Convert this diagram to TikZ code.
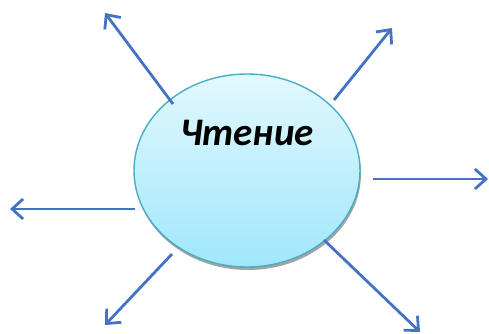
\documentclass[tikz,border=0pt]{standalone}
\usepackage{fontspec}
\newfontfamily\carlito{Carlito}
\usetikzlibrary{arrows.meta,positioning,shadows,shapes.geometric}
\definecolor{arrowblue}{RGB}{68,114,196}
\definecolor{rimteal}{RGB}{75,172,198}
\definecolor{topcyan}{RGB}{226,248,254}
\definecolor{botcyan}{RGB}{160,231,251}

\begin{document}
\begin{tikzpicture}[x=1pt,y=1pt,
  spoke/.style={draw=arrowblue,line width=2.8pt,-{Straight Barb[length=11pt,width=20pt]}},
  topic/.style={ellipse,draw=rimteal,line width=1.4pt,top color=topcyan,bottom color=botcyan,
    minimum width=226pt,minimum height=193pt,inner sep=0pt,
    drop shadow={shadow xshift=1pt,shadow yshift=-3pt,fill=gray!80,opacity=0.9}}]
  \useasboundingbox (0,0) rectangle (489,334); % page size
  \node[topic] (reading) at (247,163.5) {}; % central ellipse
  \node[anchor=base,font=\carlito\bfseries\itshape\fontsize{39}{39}\selectfont] (title) at (247,188) {Чтение};
  \coordinate (s1) at (173,230); \coordinate (e1) at (105,321); % upper left
  \coordinate (s2) at (334,234); \coordinate (e2) at (392,306); % upper right
  \coordinate (s3) at (373,155); \coordinate (e3) at (488,155); % right
  \coordinate (s4) at (135,125); \coordinate (e4) at (10,125);  % left
  \coordinate (s5) at (172,80);  \coordinate (e5) at (105,9);   % lower left
  \coordinate (s6) at (324,94);  \coordinate (e6) at (420,2);   % lower right
  \draw[spoke] (s1) -- (e1);
  \draw[spoke] (s2) -- (e2);
  \draw[spoke] (s3) -- (e3);
  \draw[spoke] (s4) -- (e4);
  \draw[spoke] (s5) -- (e5);
  \draw[spoke] (s6) -- (e6);
\end{tikzpicture}
\end{document}
